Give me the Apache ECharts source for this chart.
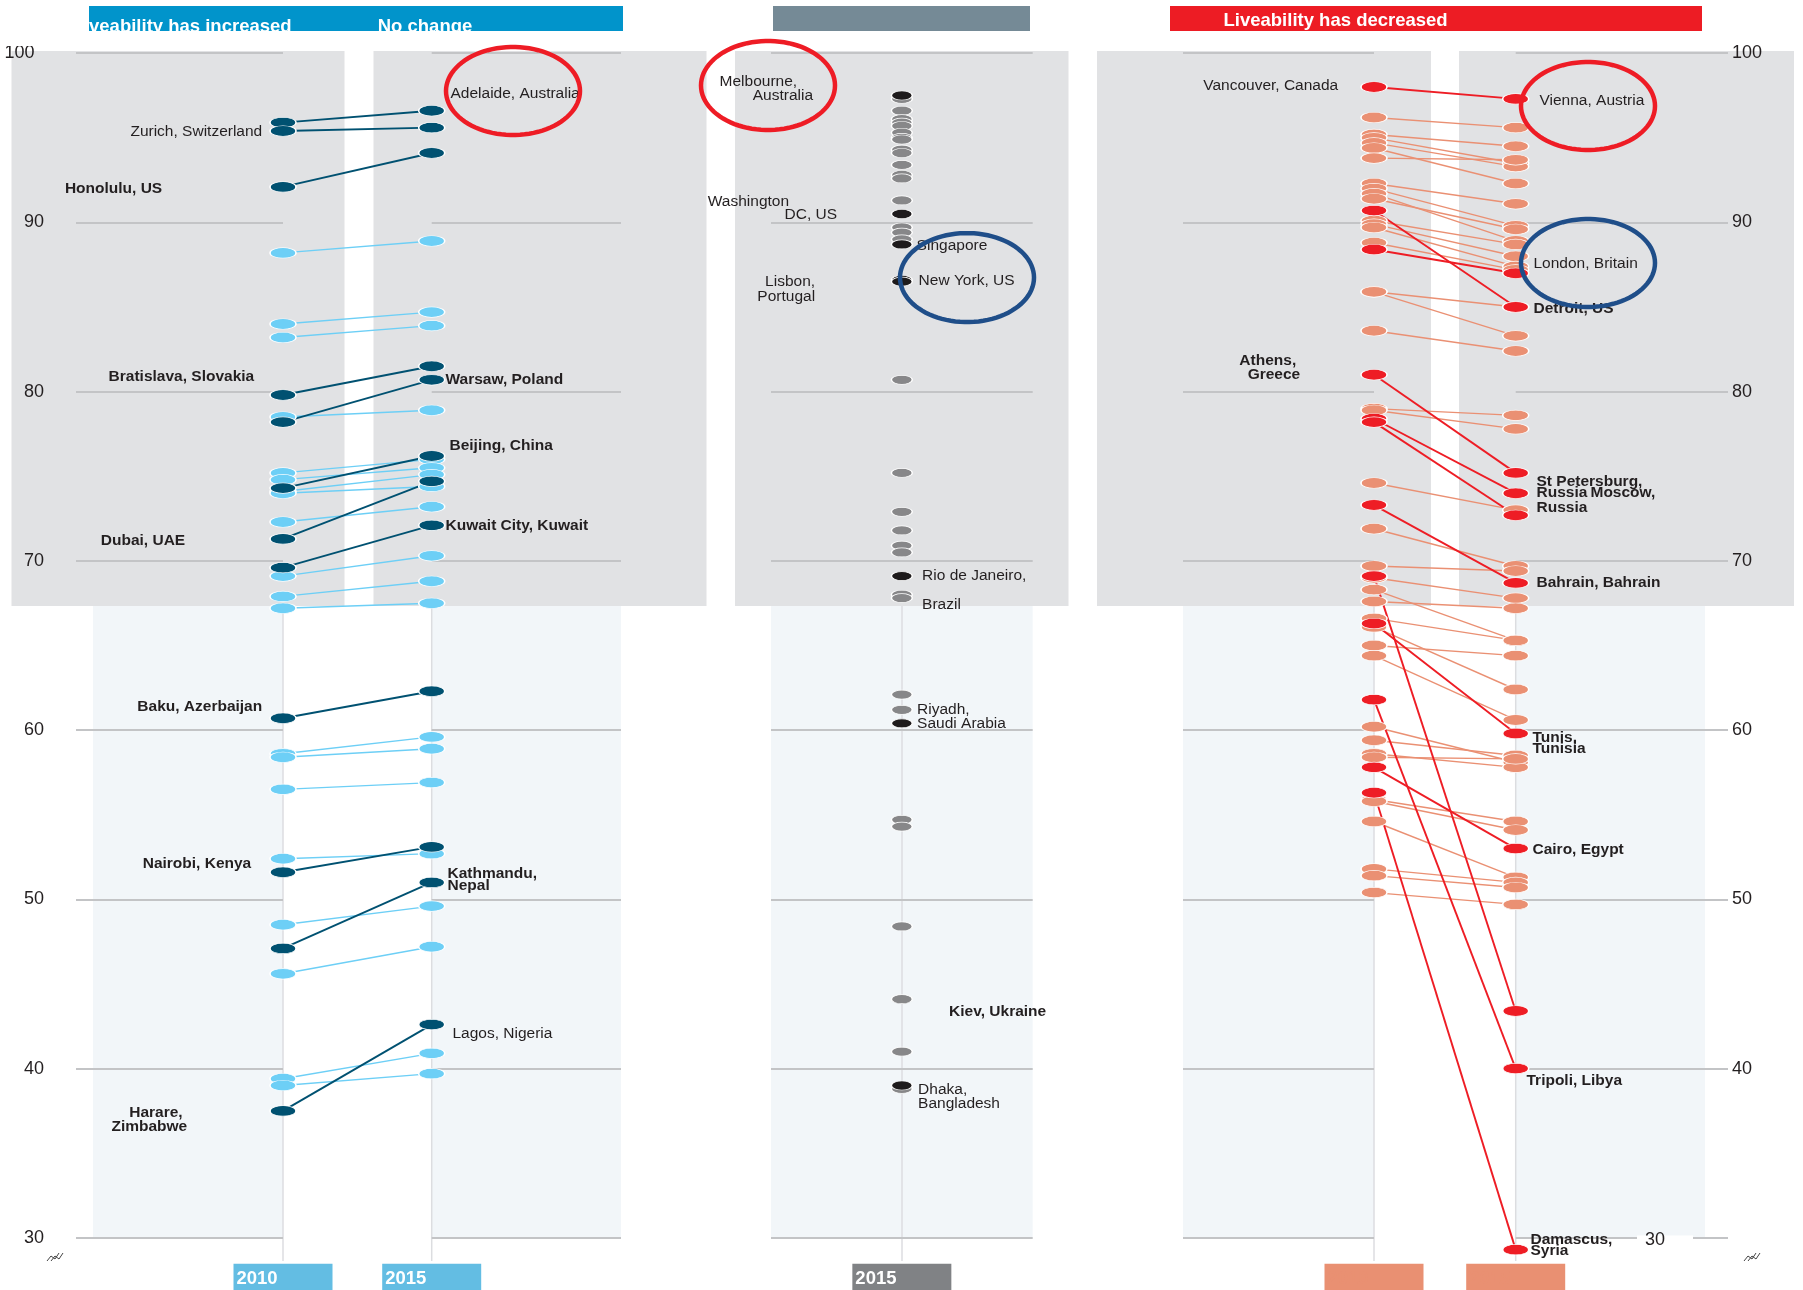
<!DOCTYPE html>
<html>
<head>
<meta charset="utf-8">
<title>Liveability, 2010-2015</title>
<script src="https://cdn.jsdelivr.net/npm/echarts@6.0.0/dist/echarts.min.js"></script>
<style>
html, body { margin: 0; padding: 0; background: #fff; }
#chart { width: 1803px; height: 1290px; }
</style>
</head>
<body>
<div id="chart"></div>
<script>
// liveability index
var upDark2010  = [95.9, 95.4, 92.1, 79.8, 78.2, 74.3, 71.3, 69.6, 60.7, 51.6, 47.1, 37.5];
var upDark2015  = [96.6, 95.6, 94.1, 81.5, 80.7, 76.2, 74.7, 72.1, 62.3, 53.1, 51.0, 42.6];
var upLight2010 = [88.2, 84.0, 83.2, 78.5, 75.2, 74.8, 74.1, 74.0, 72.3, 69.1, 67.9, 67.2, 58.6, 58.4, 56.5, 52.4, 48.5, 45.6, 39.4, 39.0];
var upLight2015 = [88.9, 84.7, 83.9, 78.9, 76.0, 75.5, 75.1, 74.4, 73.2, 70.3, 68.8, 67.5, 59.6, 58.9, 56.9, 52.7, 49.6, 47.2, 40.9, 39.7];

var midGrey = [97.3, 96.6, 96.1, 95.9, 95.7, 95.3, 95.0, 94.9, 94.3, 94.1, 93.4, 92.8, 92.6, 91.3, 89.7, 89.4, 89.0,
               80.7, 75.2, 72.9, 71.8, 70.9, 70.5, 68.0, 67.8, 62.1, 61.2, 54.7, 54.3, 48.4, 44.1, 41.0, 38.8];
var midDark = [97.5, 90.5, 88.7, 86.6, 86.5, 69.1, 60.4, 39.0];

var downRed2010 = [98.0, 90.7, 88.4, 81.0, 78.4, 78.2, 73.3, 66.3, 57.8, 69.1, 61.8, 56.3];
var downRed2015 = [97.3, 85.0, 87.0, 75.2, 74.0, 72.7, 68.7, 59.8, 53.0, 43.4, 40.0, 29.3];
var downSalmon2010 = [96.2, 95.2, 95.0, 94.7, 94.4, 93.8, 92.3, 92.0, 91.7, 91.4, 90.1, 89.9, 89.7, 88.8, 85.9, 85.9, 83.6,
                      79.0, 78.9, 74.6, 71.9, 69.7, 69.0, 68.3, 67.6, 66.6, 66.1, 65.0, 64.4,
                      60.2, 59.4, 58.6, 58.4, 55.9, 55.8, 54.6, 51.8, 51.4, 50.4];
var downSalmon2015 = [95.6, 94.5, 93.5, 93.3, 92.3, 93.7, 91.1, 89.8, 88.9, 89.6, 88.7, 88.0, 87.4, 87.2, 85.0, 83.3, 82.4,
                      78.6, 77.8, 73.0, 69.7, 69.4, 67.8, 65.3, 67.2, 65.3, 62.4, 64.4, 60.6,
                      58.1, 58.5, 57.8, 58.3, 54.6, 54.1, 51.3, 51.0, 50.7, 49.7];

var years = [2010, 2015];
var yTicks = [30, 40, 50, 60, 70, 80, 90, 100];

// city tags: which point, where the text sits
var tags = [
  {set: 'up', i: 0, end: 1, text: 'Adelaide, Australia', side: 'right', dx: 5, dy: -17},
  {set: 'up', i: 1, end: 0, text: 'Zurich, Switzerland', side: 'left', dx: -7, dy: 1},
  {set: 'up', i: 2, end: 0, text: 'Honolulu, US', side: 'left', dx: -107, dy: 2, bold: 1},
  {set: 'up', i: 3, end: 0, text: 'Bratislava, Slovakia', side: 'left', dx: -15, dy: -18, bold: 1},
  {set: 'up', i: 4, end: 1, text: 'Warsaw, Poland', side: 'right', dx: 0, dy: 0, bold: 1},
  {set: 'up', i: 5, end: 1, text: 'Beijing, China', side: 'right', dx: 4, dy: -10, bold: 1},
  {set: 'up', i: 6, end: 0, text: 'Dubai, UAE', side: 'left', dx: -84, dy: 2, bold: 1},
  {set: 'up', i: 7, end: 1, text: 'Kuwait City, Kuwait', side: 'right', dx: 0, dy: 0, bold: 1},
  {set: 'up', i: 8, end: 0, text: 'Baku, Azerbaijan', side: 'left', dx: -7, dy: -12, bold: 1},
  {set: 'up', i: 9, end: 0, text: 'Nairobi, Kenya', side: 'left', dx: -18, dy: -9, bold: 1},
  {set: 'up', i: 10, end: 1, text: 'Kathmandu,\nNepal', side: 'right', dx: 2, dy: -3, bold: 1, lh: 12.3},
  {set: 'up', i: 11, end: 0, text: 'Harare,\nZimbabwe', side: 'left', dx: -82, dy: 8.5, bold: 1, lh: 14, pad: [0, 4.6, 0, 0]},
  {set: 'up', i: 11, end: 1, text: 'Lagos, Nigeria', side: 'right', dx: 7, dy: 9},

  {set: 'mid', i: 0, text: 'Melbourne,\nAustralia', side: 'left', dx: -77.5, dy: -7, lh: 14, pad: [0, 16, 0, 0]},
  {set: 'mid', i: 1, text: 'Washington\nDC, US', side: 'left', dx: -53.5, dy: -5.6, lh: 13.5, pad: [0, 48, 0, 0]},
  {set: 'mid', i: 2, text: 'Singapore', side: 'right', dx: 3.5, dy: 1},
  {set: 'mid', i: 3, text: 'New York, US', side: 'right', dx: 5.5, dy: 1},
  {set: 'mid', i: 4, text: 'Lisbon,\nPortugal', side: 'left', dx: -75.5, dy: 7.6, lh: 15.5},
  {set: 'mid', i: 5, text: 'Rio de Janeiro,\nBrazil', side: 'right', dx: 9, dy: 14, lh: 28.5},
  {set: 'mid', i: 6, text: 'Riyadh,\nSaudi Arabia', side: 'right', dx: 4, dy: -7, lh: 14},
  {set: 'mid', i: 7, text: 'Dhaka,\nBangladesh', side: 'right', dx: 5, dy: 11, lh: 14.5},
  {set: 'grey', i: 30, text: 'Kiev, Ukraine', side: 'right', dx: 36, dy: 13, bold: 1},

  {set: 'down', i: 0, end: 0, text: 'Vancouver, Canada', side: 'left', dx: -22, dy: -1.5},
  {set: 'down', i: 0, end: 1, text: 'Vienna, Austria', side: 'right', dx: 10, dy: 1.4},
  {set: 'down', i: 1, end: 1, text: 'Detroit, US', side: 'right', dx: 4, dy: 2, bold: 1},
  {set: 'down', i: 2, end: 1, text: 'London, Britain', side: 'right', dx: 4, dy: -9},
  {set: 'down', i: 3, end: 0, text: 'Athens,\nGreece', side: 'left', dx: -60, dy: -7, bold: 1, lh: 14.4, pad: [0, 4, 0, 0]},
  {set: 'down', i: 4, end: 1, text: 'St Petersburg,\nRussia', side: 'right', dx: 7, dy: -6, bold: 1, lh: 11},
  {set: 'down', i: 5, end: 1, text: 'Moscow,\nRussia', side: 'right', dx: 7, dy: -15, bold: 1, lh: 15, pad: [0, 0, 0, 54]},
  {set: 'down', i: 6, end: 1, text: 'Bahrain, Bahrain', side: 'right', dx: 7, dy: 0, bold: 1},
  {set: 'down', i: 7, end: 1, text: 'Tunis,\nTunisia', side: 'right', dx: 3, dy: 9.5, bold: 1, lh: 11},
  {set: 'down', i: 8, end: 1, text: 'Cairo, Egypt', side: 'right', dx: 3, dy: 1, bold: 1},
  {set: 'down', i: 10, end: 1, text: 'Tripoli, Libya', side: 'right', dx: -3, dy: 12, bold: 1},
  {set: 'down', i: 11, end: 1, text: 'Damascus,\nSyria', side: 'right', dx: 1, dy: -4.5, bold: 1, lh: 11.7}
];

var FONT = "'Liberation Sans', Arial, Helvetica, sans-serif";
var INK = '#231f20';
var GRIDLINE = '#c3c4c6';
var PANEL = '#e1e2e4';
var PALE = '#f2f6f9';

// layout
var TOP = 53.2, PX = 16.923, H = 70 * PX;
var COL = {l0: 283, l1: 431.7, m: 902, r0: 1374, r1: 1515.7};

function findTag(set, i, end) {
  for (var k = 0; k < tags.length; k++) {
    var t = tags[k];
    if (t.set === set && t.i === i && (end === undefined || t.end === end)) return t;
  }
  return null;
}

function tagLabel(t) {
  var weight = t.bold ? 'bold' : 'normal';
  var rich = {};
  var fmt = t.text.split('\n').map(function (s, k) {
    rich['t' + k] = {
      fontFamily: FONT, fontSize: 15.5, fontWeight: weight, color: INK,
      lineHeight: t.lh || 18,
      padding: (k === 0 && t.pad) ? t.pad : [0, 0, 0, 0]
    };
    return '{t' + k + '|' + s + '}';
  }).join('\n');
  return {
    show: true, position: t.side, distance: 0, offset: [t.dx, t.dy],
    align: t.side === 'left' ? 'right' : 'left', verticalAlign: 'middle',
    color: INK, opacity: 1,
    formatter: fmt, rich: rich
  };
}

function slope(ax, set, a, b, i, color, lw) {
  var data = years.map(function (yr, end) {
    var item = {value: [yr, end ? b[i] : a[i]]};
    var t = findTag(set, i, end);
    if (t) item.label = tagLabel(t);
    return item;
  });
  return {
    type: 'line', xAxisIndex: ax, yAxisIndex: ax, data: data,
    symbol: 'circle', symbolSize: [26, 10.5], showSymbol: true, clip: false, silent: true,
    lineStyle: {color: color, width: lw},
    itemStyle: {color: color, borderColor: '#fff', borderWidth: 1, opacity: 1},
    label: {show: false}, emphasis: {disabled: true}
  };
}

function dots(set, vals, color) {
  return {
    type: 'scatter', xAxisIndex: 2, yAxisIndex: 2, silent: true, clip: false,
    symbol: 'circle', symbolSize: [21, 9],
    itemStyle: {color: color, borderColor: '#fff', borderWidth: 1, opacity: 1},
    emphasis: {disabled: true},
    data: vals.map(function (v, i) {
      var item = {value: [0, v]};
      var t = findTag(set, i);
      if (t) item.label = tagLabel(t);
      return item;
    })
  };
}

function gridAt(left, right) {
  return {left: left, top: TOP, width: right - left, height: H, outerBoundsMode: 'none', containLabel: false};
}

function yAx(i, lines, extra) {
  var o = {
    gridIndex: i, type: 'value', min: 30, max: 100, interval: 10,
    axisLine: {show: false}, axisTick: {show: false}, axisLabel: {show: false},
    splitLine: {show: lines, lineStyle: {color: GRIDLINE, width: 1.8}}
  };
  for (var k in extra) o[k] = extra[k];
  return o;
}

function yearBox(bg, fg) {
  return {
    show: true, margin: 26, align: 'center',
    backgroundColor: bg, padding: [4, 3, 12, 3],
    formatter: function (v) { return '{t|' + v + '}'; },
    rich: {t: {width: 93, align: 'left', color: fg, fontFamily: FONT, fontWeight: 'bold', fontSize: 18.5, lineHeight: 22}}
  };
}

function yearAxis(i, bg, fg) {
  return {
    gridIndex: i, type: 'value', min: 2010, max: 2015, interval: 5,
    axisLine: {show: false}, axisTick: {show: false}, splitLine: {show: false},
    axisLabel: yearBox(bg, fg)
  };
}

function ring(cx, cy, rx, ry, color) {
  var pts = [];
  for (var k = 0; k < 90; k++) {
    var a = k / 90 * Math.PI * 2;
    pts.push([cx + rx * Math.cos(a), cy + ry * Math.sin(a)]);
  }
  return {type: 'polygon', shape: {points: pts}, style: {fill: 'none', stroke: color, lineWidth: 4.5}, z: 50, silent: true};
}

function rect(x0, y0, x1, y1, fill, z) {
  return {type: 'rect', shape: {x: x0, y: y0, width: x1 - x0, height: y1 - y0}, style: {fill: fill}, z: z, silent: true};
}

function zig(x, y) {
  var e = [];
  [0, 4].forEach(function (d) {
    e.push({type: 'polyline', shape: {points: [[x + d, y + 9], [x + d + 4, y + 4], [x + d + 8, y + 7], [x + d + 12, y + 1]]},
            style: {stroke: '#444', lineWidth: 1, fill: 'none'}, z: 5, silent: true});
  });
  return e;
}

var yBottom = TOP + H;
var graphics = [
  // pale lower panels
  rect(93, TOP, COL.l0, yBottom, PALE, -3),
  rect(COL.l1, TOP, 621, yBottom, PALE, -3),
  rect(771, TOP, 1032.7, yBottom, PALE, -3),
  rect(1183, TOP, COL.r0, yBottom, PALE, -3),
  rect(COL.r1, TOP, 1705, yBottom, PALE, -3),
  // grey upper panels
  rect(11.5, 51, 344.5, 606, PANEL, -1),
  rect(373.5, 51, 706.5, 606, PANEL, -1),
  rect(735, 51, 1068.5, 606, PANEL, -1),
  rect(1097, 51, 1431, 606, PANEL, -1),
  rect(1459, 51, 1794, 606, PANEL, -1),
  // banners
  rect(89, 6, 623, 31, '#0194cb', 5),
  rect(773, 6, 1030, 31, '#758a96', 5),
  rect(1170, 6, 1702, 31, '#ed1c24', 5),
  {type: 'text', z: 6, silent: true, style: {text: 'Liveability has increased', x: 72.6, y: 27, fill: '#fff',
    font: 'bold 18.5px ' + FONT, textVerticalAlign: 'middle'}},
  {type: 'text', z: 6, silent: true, style: {text: 'No change', x: 377.7, y: 27, fill: '#fff',
    font: 'bold 18.5px ' + FONT, textVerticalAlign: 'middle'}},
  {type: 'text', z: 6, silent: true, style: {text: 'Liveability has decreased', x: 1223.5, y: 20.5, fill: '#fff',
    font: 'bold 18.5px ' + FONT, textVerticalAlign: 'middle'}},
  rect(0, 0, 89, 46, '#fff', 7),
  rect(0, 31, 700, 46, '#fff', 7),
  // right-hand 30
  rect(1637, 1235.5, 1693, 1246, '#fff', 3),
  {type: 'text', z: 4, silent: true, style: {text: '30', x: 1645, y: 1240, fill: INK,
    font: '18px ' + FONT, textVerticalAlign: 'middle'}},
  // circles drawn over the chart
  ring(513, 91, 67, 44, '#ee1c25'),
  ring(768, 85.5, 67, 44.5, '#ee1c25'),
  ring(1588, 106, 67, 44, '#ee1c25'),
  ring(967, 277.6, 67, 44.5, '#1f4e89'),
  ring(1588, 263, 67, 44, '#1f4e89')
].concat(zig(47, 1252), zig(1744, 1252));

[COL.l0, COL.l1, COL.m, COL.r0, COL.r1].forEach(function (x) {
  graphics.push({type: 'line', shape: {x1: x, y1: 600, x2: x, y2: 1261}, style: {stroke: '#dcdde0', lineWidth: 1.5}, z: -2, silent: true});
});

var series = [];
upLight2010.forEach(function (v, i) { series.push(slope(5, 'upLight', upLight2010, upLight2015, i, '#6dcff6', 1.4)); });
upDark2010.forEach(function (v, i) { series.push(slope(5, 'up', upDark2010, upDark2015, i, '#005171', 1.9)); });
series.push(dots('grey', midGrey, '#878789'));
series.push(dots('mid', midDark, '#1e1b1c'));
downSalmon2010.forEach(function (v, i) { series.push(slope(6, 'salmon', downSalmon2010, downSalmon2015, i, '#ea9073', 1.4)); });
downRed2010.forEach(function (v, i) { series.push(slope(6, 'down', downRed2010, downRed2015, i, '#ee1d25', 1.9)); });

var option = {
  animation: false,
  textStyle: {fontFamily: FONT},
  grid: [
    gridAt(76, COL.l0), gridAt(COL.l1, 621), gridAt(771, 1032.7),
    gridAt(1183, COL.r0), gridAt(COL.r1, 1728),
    gridAt(COL.l0, COL.l1), gridAt(COL.r0, COL.r1)
  ],
  xAxis: [
    {gridIndex: 0, type: 'value', show: false},
    {gridIndex: 1, type: 'value', show: false},
    {gridIndex: 2, type: 'category', data: ['2015'], axisLine: {show: false}, axisTick: {show: false},
     splitLine: {show: false}, axisLabel: yearBox('#808285', '#fff')},
    {gridIndex: 3, type: 'value', show: false},
    {gridIndex: 4, type: 'value', show: false},
    yearAxis(5, '#63bde3', '#fff'),
    yearAxis(6, '#e99072', '#e99072')
  ],
  yAxis: [
    yAx(0, true, {axisLabel: {show: true, margin: 32, fontFamily: FONT, fontSize: 18, color: INK,
      formatter: function (v) { return v === yTicks[yTicks.length - 1] ? '{h|' + v + '}' : String(v); },
      rich: {h: {fontFamily: FONT, fontSize: 18, color: INK, padding: [0, 9.5, 0, 0]}}}}),
    yAx(1, true),
    yAx(2, true),
    yAx(3, true),
    yAx(4, true, {position: 'right', axisLabel: {show: true, margin: 4, fontFamily: FONT, fontSize: 18, color: INK,
      formatter: function (v) { return v === yTicks[0] ? '' : String(v); }}}),
    yAx(5, false),
    yAx(6, false)
  ],
  graphic: {elements: graphics},
  series: series
};

var chart = echarts.init(document.getElementById('chart'), null, {renderer: 'canvas'});
chart.setOption(option);
</script>
</body>
</html>
